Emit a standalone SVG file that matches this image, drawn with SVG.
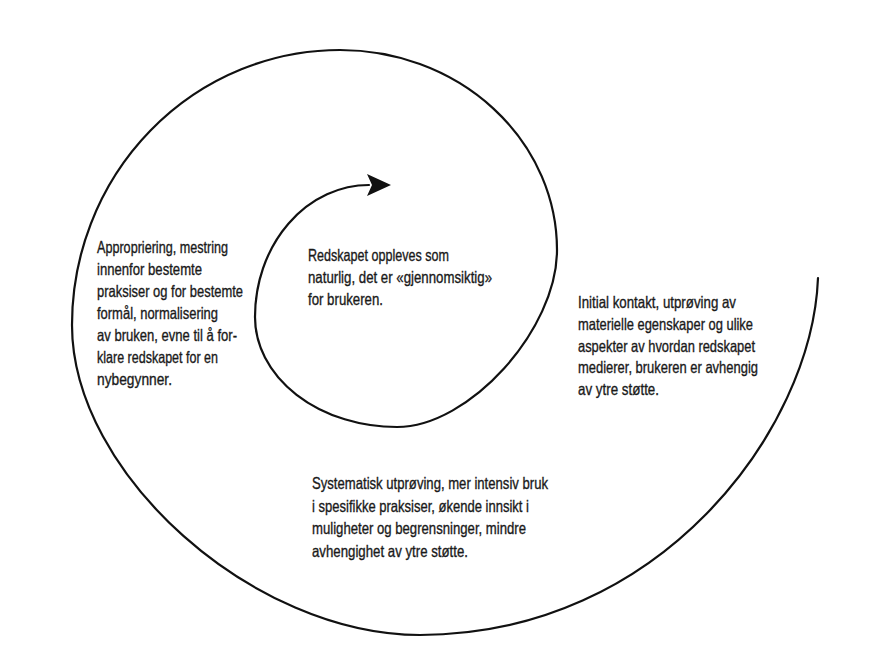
<svg xmlns="http://www.w3.org/2000/svg" width="874" height="665" viewBox="0 0 874 665">
<style>
.t{font-family:"Liberation Sans","DejaVu Sans",sans-serif;font-size:16.5px;fill:#1a1a1a;stroke:#1a1a1a;stroke-width:0.35}
.sp{fill:none;stroke:#111;stroke-width:2.2;stroke-linecap:round}
</style>
<defs>
<marker id="ah" viewBox="0 0 24 22" refX="2" refY="11" markerWidth="24" markerHeight="22" markerUnits="userSpaceOnUse" orient="auto">
<path d="M0,0 L24,11 L0,22 L5,11 Z" fill="#111"/>
</marker>
</defs>
<rect width="874" height="665" fill="#fff"/>
<g id="connectors">
<path class="sp" d="M818,278 C812,430 660,635 420,635 C253,635 72,474 72,325 A268,275 0 0 1 340,50 A217,200 0 0 1 557,250 C557,330 469,427 397,427 A142,110 0 0 1 255,317 A114,132 0 0 1 369,185" marker-end="url(#ah)"/>
</g>
<g id="node-appropriering">
<text class="t" x="97" y="253" textLength="131" lengthAdjust="spacingAndGlyphs">Appropriering, mestring</text>
<text class="t" x="97" y="275" textLength="105" lengthAdjust="spacingAndGlyphs">innenfor bestemte</text>
<text class="t" x="97" y="297" textLength="146" lengthAdjust="spacingAndGlyphs">praksiser og for bestemte</text>
<text class="t" x="97" y="319" textLength="121" lengthAdjust="spacingAndGlyphs">formål, normalisering</text>
<text class="t" x="97" y="341" textLength="140" lengthAdjust="spacingAndGlyphs">av bruken, evne til å for-</text>
<text class="t" x="97" y="363" textLength="121" lengthAdjust="spacingAndGlyphs">klare redskapet for en</text>
<text class="t" x="97" y="385" textLength="75" lengthAdjust="spacingAndGlyphs">nybegynner.</text>
</g>
<g id="node-naturlig">
<text class="t" x="308" y="261" textLength="141" lengthAdjust="spacingAndGlyphs">Redskapet oppleves som</text>
<text class="t" x="308" y="283" textLength="184" lengthAdjust="spacingAndGlyphs">naturlig, det er «gjennomsiktig»</text>
<text class="t" x="308" y="305" textLength="75" lengthAdjust="spacingAndGlyphs">for brukeren.</text>
</g>
<g id="node-initial">
<text class="t" x="578" y="308" textLength="158" lengthAdjust="spacingAndGlyphs">Initial kontakt, utprøving av</text>
<text class="t" x="578" y="330" textLength="175" lengthAdjust="spacingAndGlyphs">materielle egenskaper og ulike</text>
<text class="t" x="578" y="352" textLength="177" lengthAdjust="spacingAndGlyphs">aspekter av hvordan redskapet</text>
<text class="t" x="578" y="373" textLength="180" lengthAdjust="spacingAndGlyphs">medierer, brukeren er avhengig</text>
<text class="t" x="578" y="395" textLength="81" lengthAdjust="spacingAndGlyphs">av ytre støtte.</text>
</g>
<g id="node-systematisk">
<text class="t" x="312" y="489" textLength="236" lengthAdjust="spacingAndGlyphs">Systematisk utprøving, mer intensiv bruk</text>
<text class="t" x="312" y="512" textLength="217" lengthAdjust="spacingAndGlyphs">i spesifikke praksiser, økende innsikt i</text>
<text class="t" x="312" y="534" textLength="214" lengthAdjust="spacingAndGlyphs">muligheter og begrensninger, mindre</text>
<text class="t" x="312" y="557" textLength="156" lengthAdjust="spacingAndGlyphs">avhengighet av ytre støtte.</text>
</g>
</svg>
